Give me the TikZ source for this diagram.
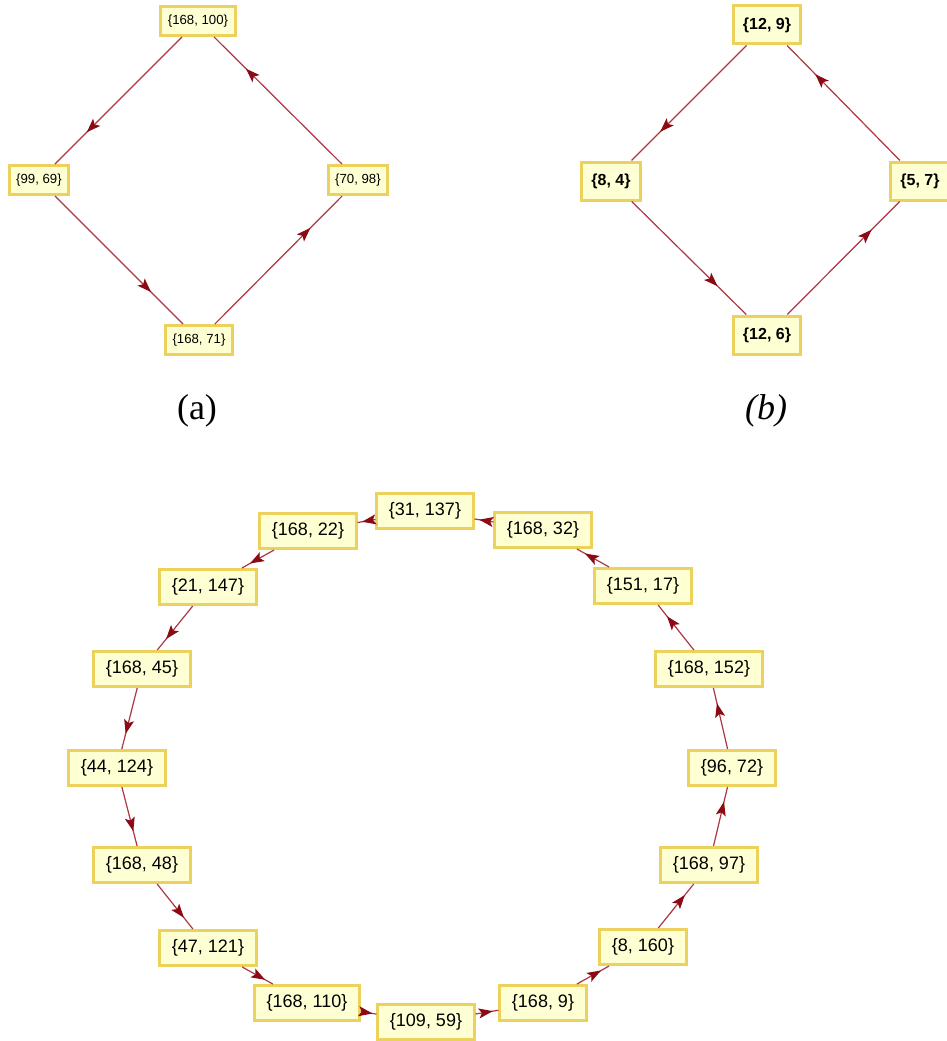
\documentclass[tikz,border=0pt]{standalone}
\usepackage{fontspec}
\setmainfont{Liberation Serif}
\newfontfamily\labfont{Liberation Sans}
\usetikzlibrary{arrows.meta,decorations.markings}
\definecolor{boxline}{RGB}{236,210,92}
\definecolor{boxfill}{RGB}{255,255,212}
\definecolor{edgecol}{RGB}{170,55,65}
\definecolor{headcol}{RGB}{140,10,20}
\tikzset{
  vbox/.style={draw=boxline, fill=boxfill, line width=3pt, rectangle, inner ysep=0pt},
  boxA/.style={vbox, minimum height=29pt, inner xsep=7pt, font=\labfont\fontsize{13.2}{15}\selectfont},
  boxB/.style={vbox, minimum height=38pt, inner xsep=9.5pt, font=\labfont\bfseries\fontsize{16}{18}\selectfont},
  boxC/.style={vbox, minimum height=35pt, inner xsep=12pt, font=\labfont\fontsize{18}{20}\selectfont},
  flow/.style={draw=edgecol, line width=1.2pt, postaction={decorate},
    decoration={markings, mark=at position 0.75 with {\arrow{Stealth[length=14pt,width=10pt,inset=3pt,color=headcol]}}}},
  sublabel/.style={font=\fontsize{36}{40}\selectfont, inner sep=0pt}
}
\begin{document}
\begin{tikzpicture}[x=1pt,y=-1pt]
\useasboundingbox (0,0) rectangle (946,1041);
% (a)
\node[boxA] (aT) at (198,21) {\{168, 100\}};
\node[boxA] (aL) at (39,180) {\{99, 69\}};
\node[boxA] (aR) at (358,180) {\{70, 98\}};
\node[boxA] (aB) at (199,340) {\{168, 71\}};
\draw[flow] (aT) -- (aL);
\draw[flow] (aL) -- (aB);
\draw[flow] (aB) -- (aR);
\draw[flow] (aR) -- (aT);
\node[sublabel] (capA) at (197,411) {(a)};
% (b)
\node[boxB] (bT) at (767,25) {\{12, 9\}};
\node[boxB] (bL) at (611,181) {\{8, 4\}};
\node[boxB] (bR) at (920,181) {\{5, 7\}};
\node[boxB] (bB) at (767,335) {\{12, 6\}};
\draw[flow] (bT) -- (bL);
\draw[flow] (bL) -- (bB);
\draw[flow] (bB) -- (bR);
\draw[flow] (bR) -- (bT);
\node[sublabel] (capB) at (766,411) {\itshape (b)};
% cycle
\node[boxC] (c1) at (425,511) {\{31, 137\}};
\node[boxC] (c2) at (543,530) {\{168, 32\}};
\node[boxC] (c3) at (308,531) {\{168, 22\}};
\node[boxC] (c4) at (208,587) {\{21, 147\}};
\node[boxC] (c5) at (142,669) {\{168, 45\}};
\node[boxC] (c6) at (117,768) {\{44, 124\}};
\node[boxC] (c7) at (142,865) {\{168, 48\}};
\node[boxC] (c8) at (208,948) {\{47, 121\}};
\node[boxC] (c9) at (307,1003) {\{168, 110\}};
\node[boxC] (c10) at (426,1022) {\{109, 59\}};
\node[boxC] (c11) at (543,1003) {\{168, 9\}};
\node[boxC] (c12) at (643,947) {\{8, 160\}};
\node[boxC] (c13) at (709,865) {\{168, 97\}};
\node[boxC] (c14) at (732,768) {\{96, 72\}};
\node[boxC] (c15) at (709,669) {\{168, 152\}};
\node[boxC] (c16) at (643,586) {\{151, 17\}};
\draw[flow] (c16) -- (c2);
\draw[flow] (c2) -- (c1);
\draw[flow] (c1) -- (c3);
\draw[flow] (c3) -- (c4);
\draw[flow] (c4) -- (c5);
\draw[flow] (c5) -- (c6);
\draw[flow] (c6) -- (c7);
\draw[flow] (c7) -- (c8);
\draw[flow] (c8) -- (c9);
\draw[flow] (c9) -- (c10);
\draw[flow] (c10) -- (c11);
\draw[flow] (c11) -- (c12);
\draw[flow] (c12) -- (c13);
\draw[flow] (c13) -- (c14);
\draw[flow] (c14) -- (c15);
\draw[flow] (c15) -- (c16);
\end{tikzpicture}
\end{document}
